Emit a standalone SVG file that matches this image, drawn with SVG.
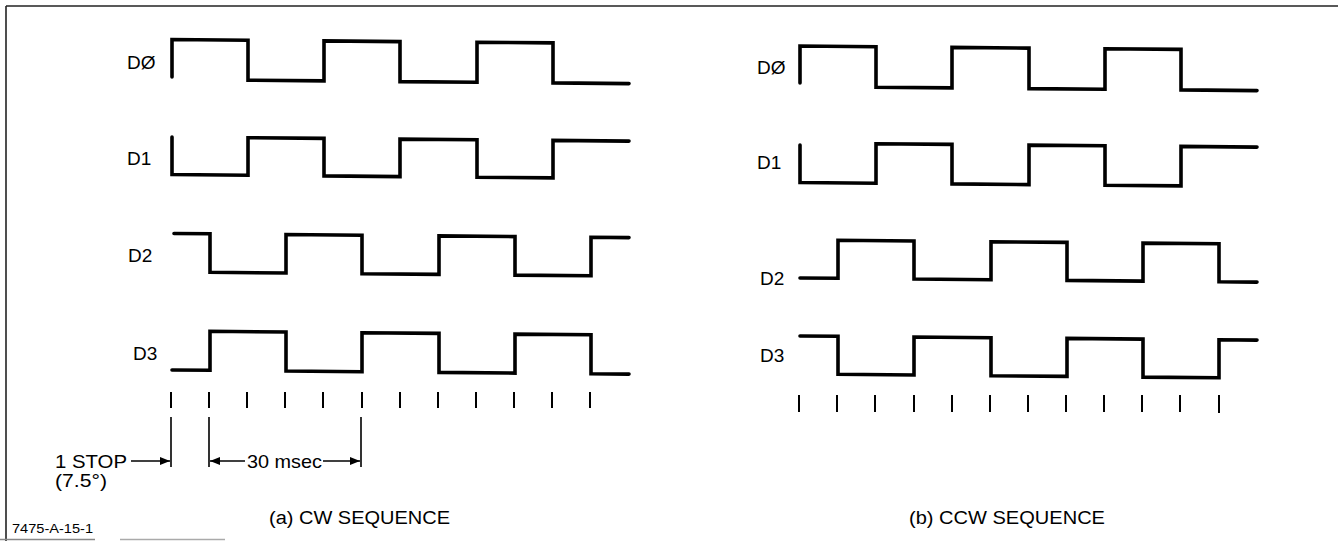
<svg xmlns="http://www.w3.org/2000/svg" width="1338" height="541" viewBox="0 0 1338 541">
<defs>
<style>
.w{fill:none;stroke:#000;stroke-width:3.6;stroke-linecap:round;stroke-linejoin:miter}
.t{fill:none;stroke:#000;stroke-width:2}
.e{fill:none;stroke:#000;stroke-width:1.6}
.lbl{font-family:"Liberation Sans",Arial,sans-serif;font-size:19px;fill:#000}
.cap{font-family:"Liberation Sans",Arial,sans-serif;font-size:18px;fill:#000}
.sm{font-family:"Liberation Sans",Arial,sans-serif;font-size:12px;fill:#000}
</style>
<marker id="ah" viewBox="0 0 10 8" refX="10" refY="4" markerWidth="10" markerHeight="8" markerUnits="userSpaceOnUse" orient="auto">
<path d="M0,0 L10,4 L0,8 Z" fill="#000"/>
</marker>
</defs>
<rect width="1338" height="541" fill="#fff"/>
<g id="frame">
<line x1="6" y1="6" x2="1338" y2="6" stroke="#222" stroke-width="1.6"/>
<line x1="6" y1="6" x2="6" y2="541" stroke="#222" stroke-width="1.6"/>
<line x1="0" y1="539.5" x2="95" y2="539.5" stroke="#888" stroke-width="1.5"/>
<line x1="120" y1="539.5" x2="225" y2="539.5" stroke="#aaa" stroke-width="1.5"/>
</g>
<g id="cw-sequence">
<g id="cw-d0"><text class="lbl" x="127" y="69">DØ</text>
<path class="w" d="M172,77 V39.5 L248,40.2 V80.2 L324,80.9 V40.9 L400,41.6 V81.6 L477,82.2 V42.2 L553,42.9 V82.9 L629,83.6"/></g>
<g id="cw-d1"><text class="lbl" x="127" y="165">D1</text>
<path class="w" d="M172,137 V174.5 L248,175.2 V137.7 L324,138.4 V175.9 L400,176.6 V139.1 L477,139.7 V177.2 L553,177.9 V140.4 L629,141.1"/></g>
<g id="cw-d2"><text class="lbl" x="128" y="262">D2</text>
<path class="w" d="M174,233.5 L210,233.8 V272.3 L286,273 V234.5 L362,235.2 V273.7 L439,274.4 V235.9 L515,236.6 V275.1 L591,275.8 V237.3 L629,237.6"/></g>
<g id="cw-d3"><text class="lbl" x="133" y="360">D3</text>
<path class="w" d="M172,370 L210,370.3 V331.3 L286,332 V371 L362,371.7 V332.7 L439,333.4 V372.4 L515,373.1 V334.1 L591,334.8 V373.8 L629,374.1"/></g>
<g id="cw-ticks">
<path class="t" d="M171,392V408 M209,392V408 M247,392V408 M285,392V408 M323,392V408 M362,392V408 M400,392V408 M438,392V408 M476,392V408 M514,392V408 M552,392V408 M590,392V408"/>
</g>
<text class="cap" x="269" y="524" textLength="181" lengthAdjust="spacingAndGlyphs">(a) CW SEQUENCE</text>
</g>
<g id="connectors">
<path class="e" d="M171,417V467 M209,417V467 M361,417V467"/>
<line class="e" x1="131" y1="461" x2="170" y2="461" marker-end="url(#ah)"/>
<line class="e" x1="245" y1="461" x2="210" y2="461" marker-end="url(#ah)"/>
<line class="e" x1="323" y1="461" x2="360" y2="461" marker-end="url(#ah)"/>
</g>
<g id="annotations">
<text class="lbl" x="55" y="468" textLength="72" lengthAdjust="spacingAndGlyphs">1 STOP</text>
<text class="lbl" x="55" y="487" textLength="52" lengthAdjust="spacingAndGlyphs">(7.5°)</text>
<text class="lbl" x="247" y="468" textLength="75" lengthAdjust="spacingAndGlyphs">30 msec</text>
<text class="sm" x="12" y="533" textLength="81" lengthAdjust="spacingAndGlyphs">7475-A-15-1</text>
</g>
<g id="ccw-sequence">
<g id="ccw-d0"><text class="lbl" x="757" y="74">DØ</text>
<path class="w" d="M800,83 V46 L876,46.7 V87.2 L952,87.9 V47.4 L1029,48.1 V88.6 L1105,89.2 V48.7 L1181,49.4 V89.9 L1257,90.6"/></g>
<g id="ccw-d1"><text class="lbl" x="757" y="169">D1</text>
<path class="w" d="M800,145 V182.5 L876,183.2 V143.7 L952,144.4 V183.9 L1029,184.6 V145.1 L1105,145.7 V185.2 L1181,185.9 V146.4 L1257,147.1"/></g>
<g id="ccw-d2"><text class="lbl" x="760" y="285">D2</text>
<path class="w" d="M800,278 L838,278.3 V240.3 L914,241 V279 L991,279.7 V241.7 L1067,242.4 V280.4 L1143,281.1 V243.1 L1219,243.8 V281.8 L1257,282.1"/></g>
<g id="ccw-d3"><text class="lbl" x="760" y="362">D3</text>
<path class="w" d="M800,336 L838,336.3 V374.3 L914,375 V337 L991,337.7 V375.7 L1067,376.4 V338.4 L1143,339.1 V377.1 L1219,377.8 V339.8 L1257,340.1"/></g>
<g id="ccw-ticks">
<path class="t" d="M799,395V412 M837,395V412 M875,395V412 M914,395V412 M952,395V412 M990,395V412 M1028,395V412 M1066,395V412 M1104,395V412 M1142,395V412 M1180,395V412 M1219,395V413"/>
</g>
<text class="cap" x="909" y="524" textLength="196" lengthAdjust="spacingAndGlyphs">(b) CCW SEQUENCE</text>
</g>
</svg>
